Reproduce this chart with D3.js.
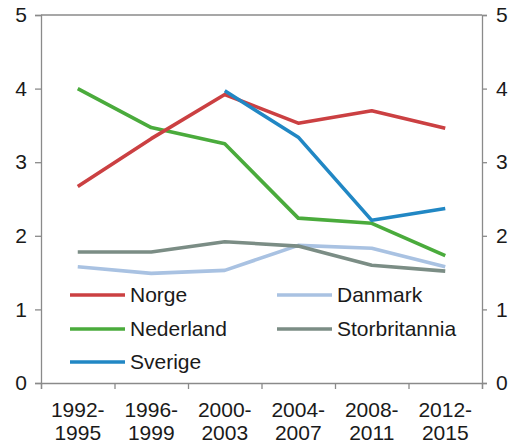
<!DOCTYPE html>
<html><head><meta charset="utf-8">
<script src="https://cdn.jsdelivr.net/npm/d3@7"></script>
<style>
html,body{margin:0;padding:0;background:#fff;}
text{font-family:"Liberation Sans",Arial,sans-serif;fill:#1a1a1a;}
</style></head>
<body><svg id="c" width="514" height="447"></svg>
<script>
const categories = ["1992-1995","1996-1999","2000-2003","2004-2007","2008-2011","2012-2015"];
const norge = [2.67, 3.32, 3.92, 3.53, 3.70, 3.46];
const nederland = [4.00, 3.47, 3.25, 2.24, 2.17, 1.73];
const sverige = [null, null, 3.97, 3.34, 2.21, 2.37];
const danmark = [1.58, 1.49, 1.53, 1.87, 1.83, 1.58];
const storbritannia = [1.78, 1.78, 1.92, 1.86, 1.60, 1.52];
const yTicks = [0, 1, 2, 3, 4, 5];

const series = [
  {name:"Danmark", values:danmark, color:"#a9c2e2"},
  {name:"Storbritannia", values:storbritannia, color:"#7b8d85"},
  {name:"Nederland", values:nederland, color:"#4aab3c"},
  {name:"Norge", values:norge, color:"#cb4042"},
  {name:"Sverige", values:sverige, color:"#2187c4"}
];

const L = 41, R = 482, T = 15, B = 383;
const svg = d3.select("#c");
const x = d3.scaleBand().domain(categories).range([L, R]).padding(0);
const y = d3.scaleLinear().domain([0, 5]).range([B, T]);
const axisColor = "#8a8a8a";

// top border
svg.append("line").attr("x1", L).attr("x2", R).attr("y1", T).attr("y2", T)
  .attr("stroke", axisColor).attr("stroke-width", 1.3);

// left axis
const gl = svg.append("g").attr("transform", `translate(${L},0)`)
  .call(d3.axisLeft(y).tickValues(yTicks).tickSize(6).tickPadding(8).tickFormat(d3.format("d")));
// right axis
const gr = svg.append("g").attr("transform", `translate(${R},0)`)
  .call(d3.axisRight(y).tickValues(yTicks).tickSize(5).tickPadding(9).tickFormat(d3.format("d")));
[gl, gr].forEach(g => {
  g.select(".domain").attr("stroke", axisColor).attr("stroke-width", 1.3);
  g.selectAll(".tick line").attr("stroke", axisColor).attr("stroke-width", 1.3);
  g.selectAll(".tick text").attr("font-size", 21).attr("fill", "#1a1a1a")
    .attr("font-family", '"Liberation Sans",Arial,sans-serif');
});

// bottom axis: ticks at band boundaries
const bounds = d3.scaleLinear().domain([0, categories.length]).range([L, R]);
const gb = svg.append("g").attr("transform", `translate(0,${B})`)
  .call(d3.axisBottom(bounds).tickValues(d3.range(0, categories.length + 1)).tickSize(6).tickFormat(""));
gb.select(".domain").attr("stroke", axisColor).attr("stroke-width", 1.3);
gb.selectAll(".tick line").attr("stroke", axisColor).attr("stroke-width", 1.3);

// category labels
categories.forEach(c => {
  const parts = c.split("-");
  const t = svg.append("text").attr("x", x(c) + x.bandwidth() / 2).attr("y", 417)
    .attr("text-anchor", "middle").attr("font-size", 21);
  t.append("tspan").attr("x", x(c) + x.bandwidth() / 2).text(parts[0] + "-");
  t.append("tspan").attr("x", x(c) + x.bandwidth() / 2).attr("dy", 23).text(parts[1]);
});

// lines
const line = d3.line()
  .defined(d => d.v !== null)
  .x(d => x(d.c) + x.bandwidth() / 2)
  .y(d => y(d.v));
series.forEach(s => {
  svg.append("path")
    .datum(s.values.map((v, i) => ({c: categories[i], v})))
    .attr("fill", "none").attr("stroke", s.color).attr("stroke-width", 3.6)
    .attr("stroke-linejoin", "round")
    .attr("d", line);
});

// legend
const legend = [
  {name:"Norge", color:"#cb4042", x1:70, x2:125, y:295},
  {name:"Nederland", color:"#4aab3c", x1:70, x2:125, y:329},
  {name:"Sverige", color:"#2187c4", x1:70, x2:125, y:362},
  {name:"Danmark", color:"#a9c2e2", x1:277, x2:332, y:295},
  {name:"Storbritannia", color:"#7b8d85", x1:277, x2:332, y:329}
];
legend.forEach(d => {
  svg.append("line").attr("x1", d.x1).attr("x2", d.x2).attr("y1", d.y).attr("y2", d.y)
    .attr("stroke", d.color).attr("stroke-width", 3.6);
  svg.append("text").attr("x", d.x2 + 5).attr("y", d.y).attr("dy", "0.35em")
    .attr("font-size", 21).text(d.name);
});
</script></body></html>
